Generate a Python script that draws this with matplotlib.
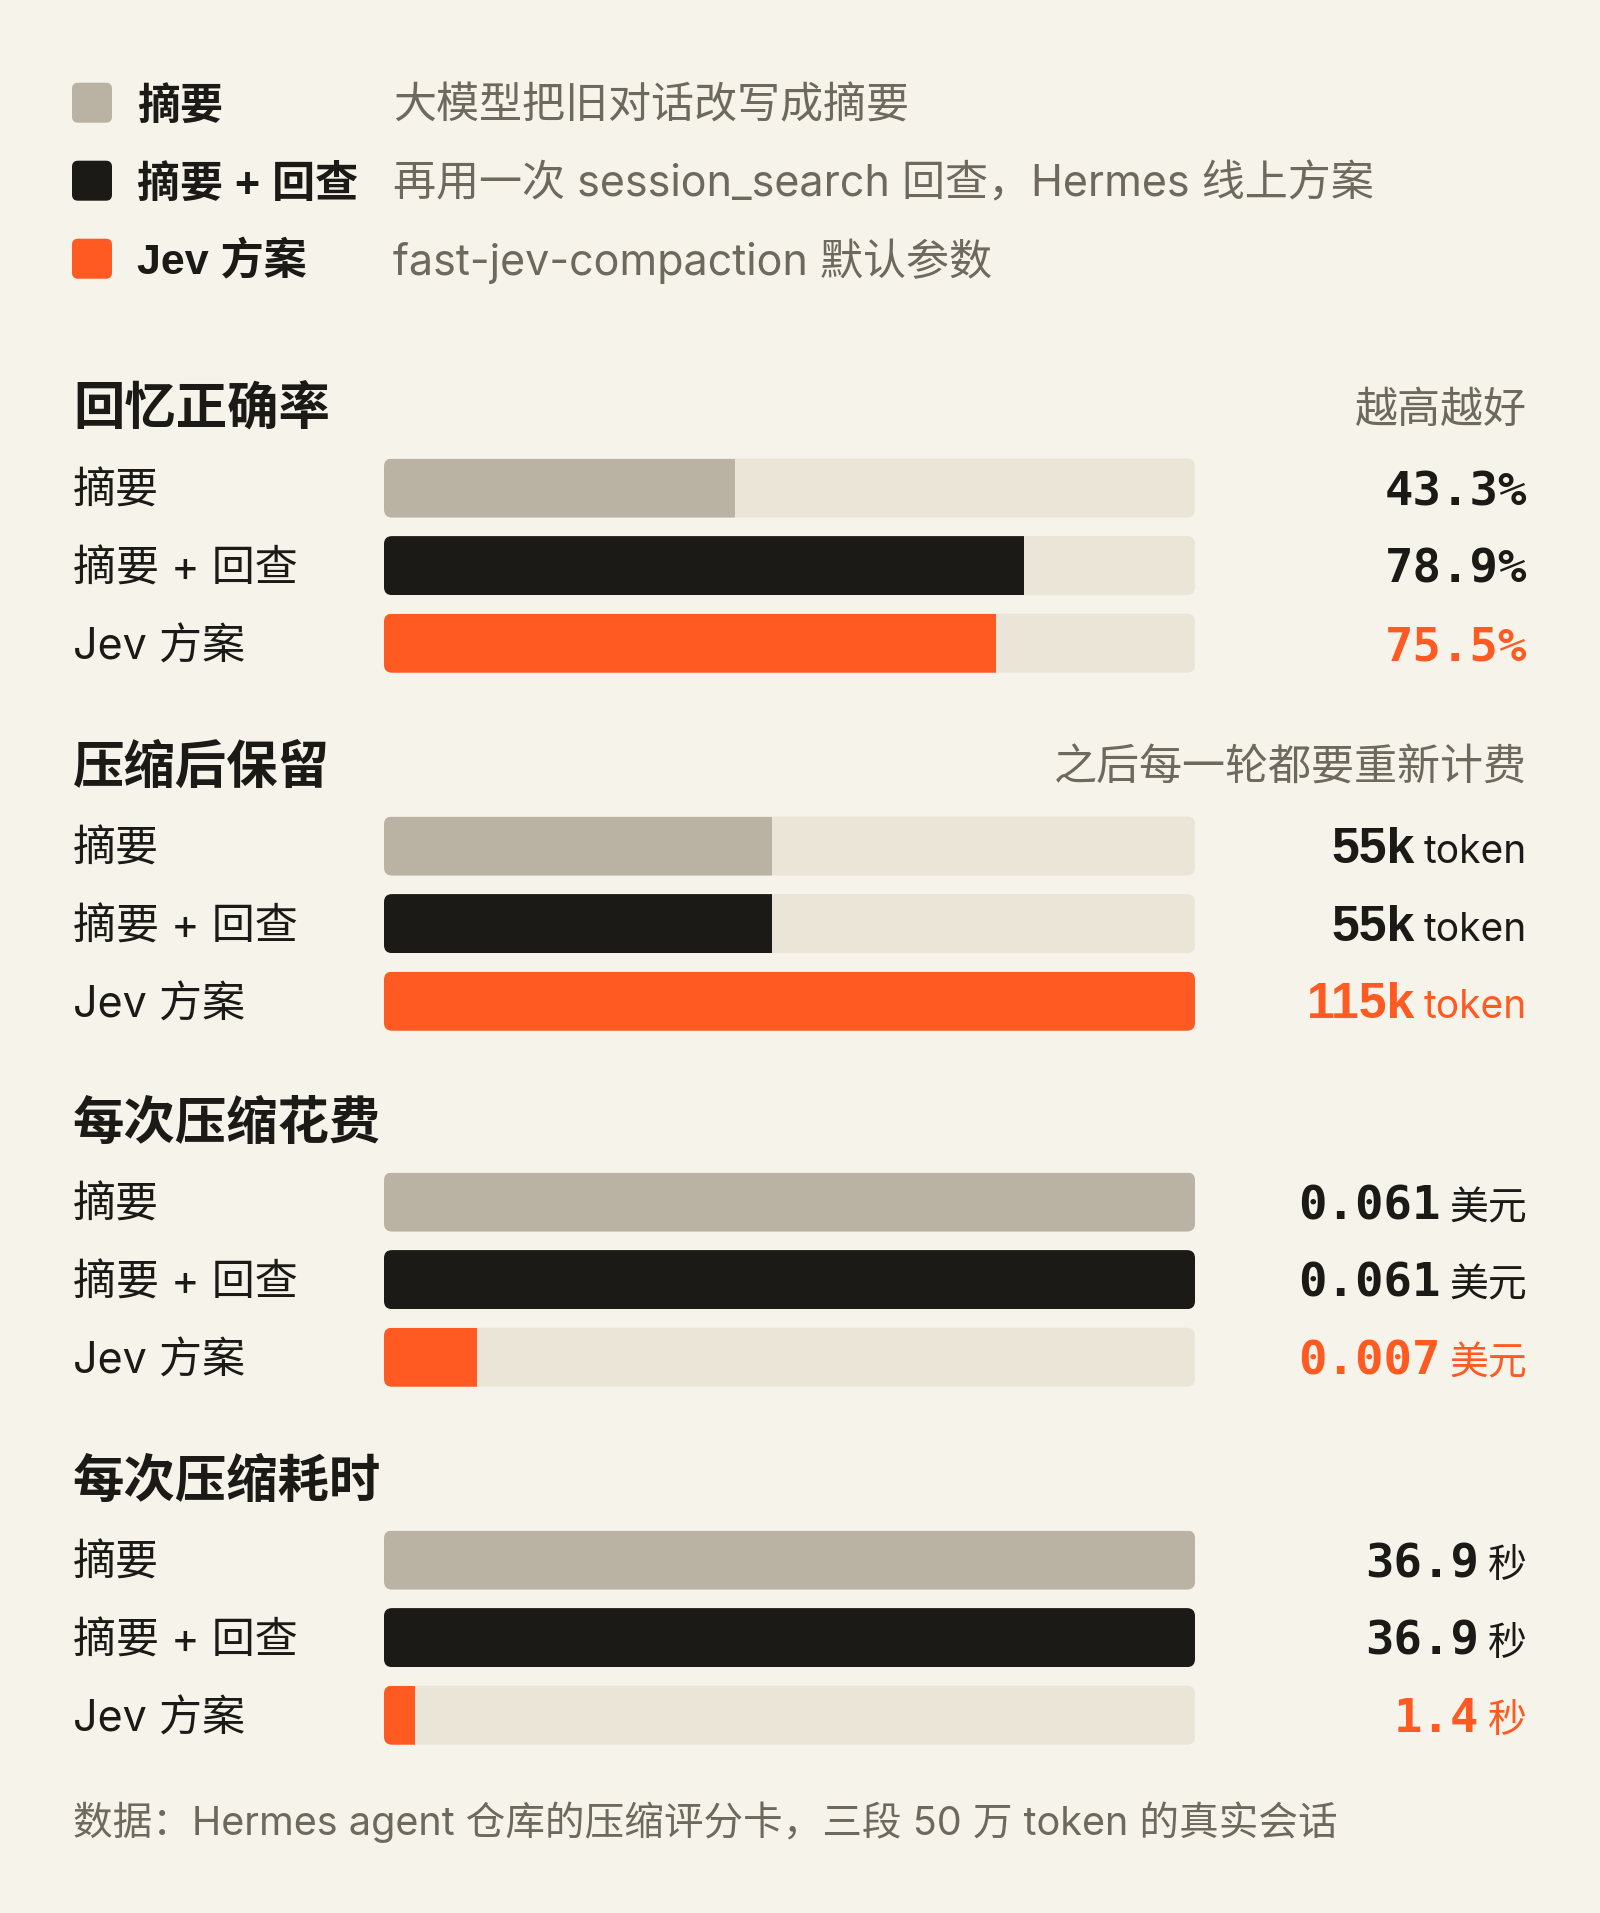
import matplotlib
matplotlib.use('Agg')
import matplotlib.pyplot as plt
from matplotlib.patches import FancyBboxPatch

# latin glyphs from Inter, Chinese falls through to Noto CJK
plt.rcParams['font.family'] = ['Inter', 'Noto Sans CJK SC', 'DejaVu Sans']
BOLD_FAMILY = ['Liberation Sans', 'Noto Sans CJK SC', 'DejaVu Sans']

BG = '#f6f3eb'
TRACK = '#ebe5d8'
INK = '#1c1a17'
MUTED = '#6e695f'
ORANGE = '#ff5a22'

# data
methods = ['摘要', '摘要 + 回查', 'Jev 方案']
method_notes = ['大模型把旧对话改写成摘要',
                '再用一次 session_search 回查，Hermes 线上方案',
                'fast-jev-compaction 默认参数']
method_colors = ['#bab3a4', INK, ORANGE]
value_colors = [INK, INK, ORANGE]

titles = ['回忆正确率', '压缩后保留', '每次压缩花费', '每次压缩耗时']
subtitles = ['越高越好', '之后每一轮都要重新计费', '', '']
recall_pct = [43.3, 78.9, 75.5]
kept_k_tokens = [55, 55, 115]
cost_usd = [0.061, 0.061, 0.007]
seconds = [36.9, 36.9, 1.4]
footer = '数据：Hermes agent 仓库的压缩评分卡，三段 50 万 token 的真实会话'

sections = [
    (recall_pct, 100, [f'{v:.1f}%' for v in recall_pct], None),
    (kept_k_tokens, max(kept_k_tokens), [f'{v}k' for v in kept_k_tokens], 'token'),
    (cost_usd, max(cost_usd), [f'{v:.3f}' for v in cost_usd], '美元'),
    (seconds, max(seconds), [f'{v:.1f}' for v in seconds], '秒'),
]
num_fonts = ['DejaVu Sans Mono', 'Liberation Sans', 'DejaVu Sans Mono', 'DejaVu Sans Mono']

# layout, in pixels of the 1600x1913 canvas
W, H = 1600, 1913
LEFT = 73
TX0, TX1 = 384, 1195
RIGHT = 1527
title_y = [406, 764, 1120, 1478]
ROW_GAP = 77.6
FIRST_ROW = 82
BAR_H = 59
RADIUS = 8

fig = plt.figure(figsize=(W / 100, H / 100), dpi=100, facecolor=BG)
bg = fig.add_axes([0, 0, 1, 1])
bg.set_xlim(0, W)
bg.set_ylim(H, 0)
bg.axis('off')

# legend
for i, (name, note, col) in enumerate(zip(methods, method_notes, method_colors)):
    yc = 102.7 + i * 78
    bg.add_patch(FancyBboxPatch((LEFT - 1, yc - 20), 40, 40,
                                boxstyle='round,pad=0,rounding_size=6',
                                fc=col, ec='none'))
    bg.text(137, yc + 16, name, fontsize=31, fontweight='bold', family=BOLD_FAMILY,
            color=INK, va='baseline')
    bg.text(393, yc + 16, note, fontsize=31, color=MUTED, va='baseline')

for s, (vals, vmax, labels, unit) in enumerate(sections):
    ty = title_y[s]
    bg.text(LEFT, ty + 19, titles[s], fontsize=37, fontweight='bold', family=BOLD_FAMILY,
            color=INK, va='baseline')
    if subtitles[s]:
        bg.text(RIGHT, ty + 17, subtitles[s], fontsize=31, color=MUTED,
                ha='right', va='baseline')

    rows_y = [ty + FIRST_ROW + i * ROW_GAP for i in range(3)]
    top = rows_y[0] - ROW_GAP / 2
    ax = fig.add_axes([TX0 / W, 1 - (top + 3 * ROW_GAP) / H,
                       (TX1 - TX0) / W, 3 * ROW_GAP / H])
    ax.set_xlim(0, vmax)
    ax.set_ylim(2.5, -0.5)
    ax.axis('off')
    ax.patch.set_alpha(0)

    h = BAR_H / ROW_GAP
    xpp = vmax / (TX1 - TX0)
    ypp = 1 / ROW_GAP
    bars = ax.barh(range(3), vals, height=h, color=method_colors, zorder=2)
    for i, bar in enumerate(bars):
        track = FancyBboxPatch((0, i - h / 2), vmax, h,
                               boxstyle=f'round,pad=0,rounding_size={RADIUS * xpp}',
                               mutation_aspect=ypp / xpp, fc=TRACK, ec='none', zorder=1)
        ax.add_patch(track)
        bar.set_clip_path(track)

    for i, yc in enumerate(rows_y):
        bg.text(LEFT, yc + 16, methods[i], fontsize=31, color=INK, va='baseline')
        c = value_colors[i]
        if unit is None:
            bg.text(RIGHT, yc + 17, labels[i], fontsize=34, fontweight='bold',
                    family=num_fonts[s], color=c, ha='right', va='baseline')
        else:
            u = bg.text(RIGHT, yc + 17, unit, fontsize=28, color=c,
                        ha='right', va='baseline')
            bg.annotate(labels[i], xy=(0, yc + 17), xycoords=(u, 'data'),
                        xytext=(-9, 0), textcoords='offset pixels',
                        fontsize=36 if num_fonts[s] == 'Liberation Sans' else 34,
                        fontweight='bold', family=num_fonts[s], color=c,
                        ha='right', va='baseline')

bg.text(LEFT, 1820 + 15, footer, fontsize=28.5, color=MUTED, va='baseline')

fig.savefig('out.png', dpi=100, facecolor=BG)
